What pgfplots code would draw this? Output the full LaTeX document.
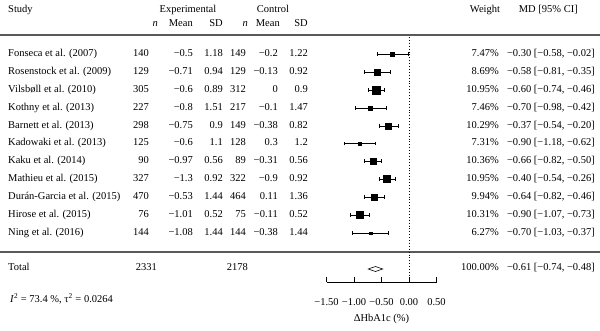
\documentclass[border=0pt]{standalone}
\usepackage{pgfplots}
\pgfplotsset{compat=1.18}
\usepackage{fontspec}
\setmainfont{Liberation Serif}
\begin{document}
\fontsize{10.5}{12}\selectfont
\begin{tikzpicture}[x=1pt,y=-1pt,
  txt/.style={inner sep=0pt, font=\fontsize{10.5}{12}\selectfont}]
\useasboundingbox (0,0) rectangle (600,331);
% separators
\draw[line width=1.2pt, black!65] (0,35) -- (600,35);
\draw[line width=1.2pt, black!65] (0,252) -- (600,252);
% header
\node[txt, anchor=mid west] at (8,10) {Study};
\node[txt, anchor=mid] at (188,10) {Experimental};
\node[txt, anchor=mid] at (273,10) {Control};
\node[txt, anchor=mid] at (485,10) {Weight};
\node[txt, anchor=mid east] at (578,10) {MD [95\% CI]};
\node[txt, anchor=mid east] at (158,24) {\textit{n}};
\node[txt, anchor=mid east] at (193,24) {Mean};
\node[txt, anchor=mid east] at (223,24) {SD};
\node[txt, anchor=mid east] at (248,24) {\textit{n}};
\node[txt, anchor=mid east] at (280,24) {Mean};
\node[txt, anchor=mid east] at (308,24) {SD};
% rows
\foreach \y/\s/\na/\ma/\sa/\nb/\mb/\sb/\w/\ci in {
  54/Fonseca et al. (2007)/140/−0.5/1.18/149/−0.2/1.22/7.47\%/{−0.30 [−0.58, −0.02]},
  72/Rosenstock et al. (2009)/129/−0.71/0.94/129/−0.13/0.92/8.69\%/{−0.58 [−0.81, −0.35]},
  90/Vilsbøll et al. (2010)/305/−0.6/0.89/312/0/0.9/10.95\%/{−0.60 [−0.74, −0.46]},
  108/Kothny et al. (2013)/227/−0.8/1.51/217/−0.1/1.47/7.46\%/{−0.70 [−0.98, −0.42]},
  126/Barnett et al. (2013)/298/−0.75/0.9/149/−0.38/0.82/10.29\%/{−0.37 [−0.54, −0.20]},
  143.5/Kadowaki et al. (2013)/125/−0.6/1.1/128/0.3/1.2/7.31\%/{−0.90 [−1.18, −0.62]},
  161/Kaku et al. (2014)/90/−0.97/0.56/89/−0.31/0.56/10.36\%/{−0.66 [−0.82, −0.50]},
  179/Mathieu et al. (2015)/327/−1.3/0.92/322/−0.9/0.92/10.95\%/{−0.40 [−0.54, −0.26]},
  197/Durán-Garcia et al. (2015)/470/−0.53/1.44/464/0.11/1.36/9.94\%/{−0.64 [−0.82, −0.46]},
  215/Hirose et al. (2015)/76/−1.01/0.52/75/−0.11/0.52/10.31\%/{−0.90 [−1.07, −0.73]},
  233/Ning et al. (2016)/144/−1.08/1.44/144/−0.38/1.44/6.27\%/{−0.70 [−1.03, −0.37]}}{
  \node[txt, anchor=mid west] at (8,\y) {\s};
  \node[txt, anchor=mid east] at (149,\y) {\na};
  \node[txt, anchor=mid east] at (193,\y) {\ma};
  \node[txt, anchor=mid east] at (223,\y) {\sa};
  \node[txt, anchor=mid east] at (246,\y) {\nb};
  \node[txt, anchor=mid east] at (278,\y) {\mb};
  \node[txt, anchor=mid east] at (308,\y) {\sb};
  \node[txt, anchor=mid east] at (499,\y) {\w};
  \node[txt, anchor=mid east] at (595,\y) {\ci};
}
% total
\node[txt, anchor=mid west] at (8,268) {Total};
\node[txt, anchor=mid east] at (157,268) {2331};
\node[txt, anchor=mid east] at (248,268) {2178};
\node[txt, anchor=mid east] at (499,268) {100.00\%};
\node[txt, anchor=mid east] at (595,268) {−0.61 [−0.74, −0.48]};
\node[txt, anchor=mid west] at (10,300) {\textit{I}\textsuperscript{2} = 73.4 \%, τ\textsuperscript{2} = 0.0264};
\begin{axis}[
  at={(326.5pt,-282pt)}, anchor=south west,
  scale only axis, width=110pt, height=245pt,
  xmin=-1.5, xmax=0.5, ymin=37, ymax=282, y dir=reverse,
  axis x line=bottom, axis y line=none, clip=false,
  x axis line style={-, black, line width=0.7pt},
  xtick={-1.5,-1,-0.5,0,0.5},
  xticklabels={−1.50,−1.00,−0.50,0.00,0.50},
  tick align=inside, major tick length=5pt,
  tick style={black, line width=0.7pt},
  xticklabel style={font=\fontsize{10.5}{12}\selectfont, yshift=-13pt},
  xlabel={ΔHbA1c (\%)},
  xlabel style={font=\fontsize{10.5}{12}\selectfont, yshift=-1pt},
]
\addplot[black, dotted, line width=0.9pt] coordinates {(0,37) (0,282)};
\addplot[only marks, mark=square*, black,
  visualization depends on={value \thisrow{ms} \as \msz},
  scatter, scatter/use mapped color={draw=black, fill=black},
  scatter/@pre marker code/.append style={/tikz/mark size=\msz},
  error bars/.cd, x dir=both, x explicit,
  error bar style={black, line width=0.6pt},
  error mark options={black, mark size=1.8pt, rotate=90}]
  table[x=md, y=y, x error=e] {
md     y      e     ms
-0.30  54     0.28  2.0
-0.58  72     0.23  2.75
-0.60  90     0.14  3.75
-0.70  108    0.28  1.85
-0.37  126    0.17  3.0
-0.90  143.5  0.28  1.65
-0.66  161    0.16  3.0
-0.40  179    0.14  3.5
-0.64  197    0.18  3.0
-0.90  215    0.17  3.5
-0.70  233    0.33  1.2
};
\addplot[black, fill=white, line width=0.6pt] coordinates
  {(-0.74,269) (-0.61,266.5) (-0.48,269) (-0.61,271.5)} -- cycle;
\end{axis}
\end{tikzpicture}
\end{document}
